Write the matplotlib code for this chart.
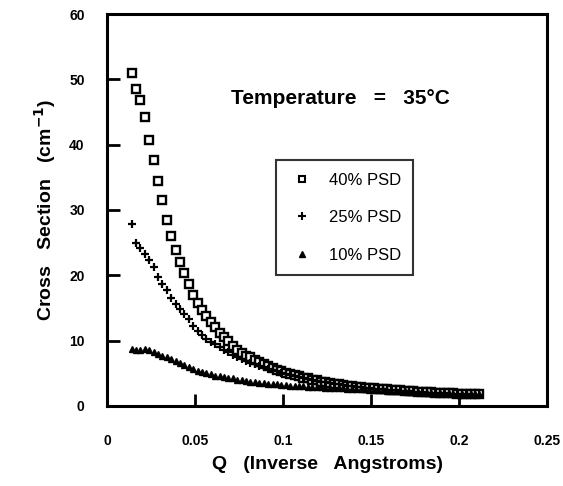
import matplotlib
matplotlib.use("Agg")
import matplotlib.pyplot as plt
from matplotlib.lines import Line2D

plt.rcParams['font.family'] = ['Liberation Sans', 'DejaVu Sans']

# Q values (inverse Angstroms), same grid for all three samples
q = [0.0140, 0.0165, 0.0190, 0.0215, 0.0240, 0.0265, 0.0290, 0.0315, 0.0340, 0.0365,
     0.0390, 0.0415, 0.0440, 0.0465, 0.0490, 0.0515, 0.0540, 0.0565, 0.0590, 0.0615,
     0.0640, 0.0665, 0.0690, 0.0715, 0.0740, 0.0765, 0.0790, 0.0815, 0.0840, 0.0865,
     0.0890, 0.0915, 0.0940, 0.0965, 0.0990, 0.1015, 0.1040, 0.1065, 0.1090, 0.1115,
     0.1140, 0.1165, 0.1190, 0.1215, 0.1240, 0.1265, 0.1290, 0.1315, 0.1340, 0.1365,
     0.1390, 0.1415, 0.1440, 0.1465, 0.1490, 0.1515, 0.1540, 0.1565, 0.1590, 0.1615,
     0.1640, 0.1665, 0.1690, 0.1715, 0.1740, 0.1765, 0.1790, 0.1815, 0.1840, 0.1865,
     0.1890, 0.1915, 0.1940, 0.1965, 0.1990, 0.2015, 0.2040, 0.2065, 0.2090, 0.2115]

# cross section (cm^-1)
psd40 = [51.0, 48.6, 46.8, 44.3, 40.7, 37.7, 34.4, 31.5, 28.5, 26.0,
         23.8, 22.1, 20.3, 18.6, 17.0, 15.7, 14.6, 13.8, 12.8, 12.0,
         11.2, 10.6, 10.0, 9.1, 8.6, 8.1, 7.7, 7.4, 7.0, 6.7,
         6.4, 6.1, 5.8, 5.5, 5.3, 5.1, 4.9, 4.7, 4.5, 4.3,
         4.2, 4.0, 3.9, 3.7, 3.6, 3.5, 3.4, 3.3, 3.2, 3.1,
         3.0, 2.95, 2.9, 2.8, 2.75, 2.7, 2.6, 2.55, 2.5, 2.45,
         2.4, 2.35, 2.3, 2.25, 2.2, 2.15, 2.1, 2.1, 2.05, 2.0,
         2.0, 1.95, 1.9, 1.9, 1.85, 1.85, 1.8, 1.8, 1.8, 1.75]

psd25 = [27.8, 25.0, 24.2, 23.2, 22.3, 21.3, 19.8, 18.7, 17.7, 16.5,
         15.6, 14.8, 14.1, 13.3, 12.3, 11.5, 10.8, 10.2, 9.8, 9.4,
         9.0, 8.6, 8.2, 7.8, 7.5, 7.2, 6.9, 6.6, 6.4, 6.1,
         5.9, 5.7, 5.5, 5.3, 5.1, 4.9, 4.7, 4.5, 4.4, 4.2,
         4.1, 3.9, 3.8, 3.7, 3.6, 3.5, 3.4, 3.3, 3.2, 3.1,
         3.0, 2.9, 2.85, 2.8, 2.7, 2.65, 2.6, 2.5, 2.45, 2.4,
         2.35, 2.3, 2.25, 2.2, 2.15, 2.1, 2.05, 2.0, 2.0, 1.95,
         1.9, 1.9, 1.85, 1.85, 1.8, 1.8, 1.75, 1.75, 1.7, 1.7]

psd10 = [8.7, 8.5, 8.6, 8.7, 8.6, 8.3, 8.0, 7.7, 7.4, 7.1,
         6.8, 6.5, 6.2, 5.9, 5.6, 5.4, 5.2, 5.0, 4.8, 4.6,
         4.5, 4.4, 4.3, 4.2, 4.0, 3.9, 3.8, 3.7, 3.6, 3.5,
         3.45, 3.4, 3.35, 3.3, 3.2, 3.15, 3.1, 3.05, 3.05, 3.0,
         2.95, 2.9, 2.85, 2.85, 2.8, 2.75, 2.75, 2.7, 2.7, 2.65,
         2.6, 2.55, 2.55, 2.5, 2.45, 2.4, 2.4, 2.35, 2.3, 2.3,
         2.25, 2.2, 2.2, 2.15, 2.1, 2.1, 2.05, 2.0, 2.0, 1.95,
         1.95, 1.9, 1.9, 1.85, 1.85, 1.8, 1.8, 1.8, 1.75, 1.75]

xticks = [0, 0.05, 0.1, 0.15, 0.2, 0.25]
xticklabels = ['0', '0.05', '0.1', '0.15', '0.2', '0.25']
yticks = [0, 10, 20, 30, 40, 50, 60]
labels = ['40% PSD', '25% PSD', '10% PSD']

fig = plt.figure(figsize=(5.63, 4.86), dpi=100)
ax = fig.add_axes([0.190, 0.165, 0.782, 0.806])

ax.plot(q, psd40, linestyle='none', marker='s', markersize=5.5, markerfacecolor='white',
        markeredgecolor='black', markeredgewidth=1.7)
ax.plot(q, psd25, linestyle='none', marker='+', markersize=6, color='black', markeredgewidth=1.6)
ax.plot(q, psd10, linestyle='none', marker='^', markersize=4.5, color='black')

ax.set_xlim(0, 0.25)
ax.set_ylim(0, 60)
ax.set_xticks(xticks)
ax.set_xticklabels(xticklabels)
ax.set_yticks(yticks)
for s in ax.spines.values():
    s.set_linewidth(2.2)
ax.tick_params(direction='in', length=9, width=2, labelsize=10)
ax.tick_params(axis='x', pad=20)
ax.tick_params(axis='y', pad=16)
for t in ax.get_xticklabels() + ax.get_yticklabels():
    t.set_fontweight('bold')

ax.set_xlabel('Q   (Inverse   Angstroms)', fontsize=14, fontweight='bold', labelpad=6)
ax.set_ylabel('Cross   Section   (cm$^{\\mathbf{-1}}$)', fontsize=14, fontweight='bold', labelpad=8)

ax.text(0.53, 0.785, 'Temperature   =   35°C', transform=ax.transAxes,
        ha='center', va='center', fontsize=15, fontweight='bold')

handles = [
    Line2D([], [], linestyle='none', marker='s', markersize=4.5, markerfacecolor='white',
           markeredgecolor='black', markeredgewidth=1.5),
    Line2D([], [], linestyle='none', marker='+', markersize=6, color='black', markeredgewidth=1.5),
    Line2D([], [], linestyle='none', marker='^', markersize=5, color='black'),
]
leg = ax.legend(handles, labels, loc='upper left', bbox_to_anchor=(0.365, 0.648),
                fontsize=12, frameon=True, fancybox=False, edgecolor='black',
                labelspacing=1.35, borderpad=0.75, handletextpad=0.8, handlelength=1.6)
leg.get_frame().set_linewidth(1.5)

fig.savefig('out.png', dpi=100)
